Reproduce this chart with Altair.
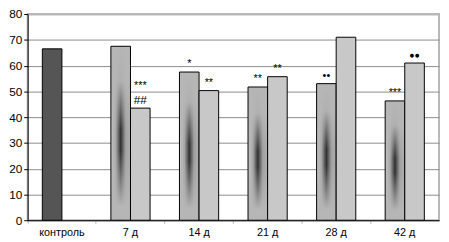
import altair as alt
import pandas as pd

categories = ["контроль", "7 д", "14 д", "21 д", "28 д", "42 д"]
series1 = [66.5, 67.5, 57.5, 51.7, 53.0, 46.3]
series2 = [None, 43.5, 50.3, 55.7, 71.0, 61.0]
labels1 = ["", "", "*", "**", "••", "***"]
labels2 = ["", "##", "**", "**", "", "●●"]
labels2_top = ["", "***", "", "", "", ""]

df = pd.DataFrame({
    "cat": categories * 2,
    "s": ["a"] * 6 + ["b"] * 6,
    "v": series1 + series2,
    "lab": labels1 + labels2,
    "lab2": [""] * 6 + labels2_top,
})

FONT = "Liberation Sans"

x_enc = alt.X("cat:N", sort=categories, title=None,
              scale=alt.Scale(paddingInner=0, paddingOuter=0),
              axis=alt.Axis(labelAngle=0, labelFontSize=11, labelColor="black",
                            labelFont=FONT, domainColor="black", tickColor="#b0b0b0",
                            tickSize=3, labelPadding=4, bandPosition=0, grid=False))
xo_enc = alt.XOffset("s:N", scale=alt.Scale(domain=["a", "b"], paddingInner=0, paddingOuter=0.75))
y_enc = alt.Y("v:Q", title=None,
              scale=alt.Scale(domain=[0, 80], nice=False),
              axis=alt.Axis(values=list(range(0, 81, 10)), labelFontSize=12, labelFont=FONT,
                            labelColor="black", domainColor="black", tickColor="black",
                            tickSize=4, labelPadding=2, grid=True,
                            gridColor={"condition": {"test": "datum.value === 80", "value": "#b8b8b8"}, "value": "#8c8c8c"},
                            gridWidth={"condition": {"test": "datum.value === 80", "value": 2}, "value": 1}))

base = alt.Chart(df).encode(x=x_enc, xOffset=xo_enc, y=y_enc)

control = base.transform_filter("datum.cat === 'контроль' && datum.s === 'a'").mark_bar(
    fill="#555555", stroke="black", strokeWidth=1)

hgrad = {"gradient": "linear", "x1": 0, "y1": 0, "x2": 1, "y2": 0,
         "stops": [{"offset": 0, "color": "#c4c4c4"}, {"offset": 0.25, "color": "#a8a8a8"},
                   {"offset": 0.5, "color": "#303030"}, {"offset": 0.75, "color": "#a0a0a0"},
                   {"offset": 1, "color": "#b0b0b0"}]}
vgrad = {"gradient": "linear", "x1": 0, "y1": 0, "x2": 0, "y2": 1,
         "stops": [{"offset": 0, "color": "rgba(182,182,182,1)"},
                   {"offset": 0.2, "color": "rgba(182,182,182,0.95)"},
                   {"offset": 0.48, "color": "rgba(182,182,182,0)"},
                   {"offset": 0.6, "color": "rgba(182,182,182,0)"},
                   {"offset": 0.92, "color": "rgba(182,182,182,1)"},
                   {"offset": 1, "color": "rgba(182,182,182,1)"}]}
s1_data = base.transform_filter("datum.cat !== 'контроль' && datum.s === 'a'")
s1 = s1_data.mark_bar(fill=hgrad, strokeWidth=0)
s1_over = s1_data.mark_bar(fill=vgrad, stroke="black", strokeWidth=1)

s2 = base.transform_filter("datum.s === 'b' && isValid(datum.v)").mark_bar(
    fill="#c8c8c8", stroke="black", strokeWidth=1)

txt1 = base.transform_filter("datum.lab !== ''").mark_text(
    baseline="alphabetic", align="center", dy=-5, font=FONT, color="black").encode(
    text="lab:N",
    size=alt.condition("datum.lab === '●●'", alt.value(9),
                       alt.value(11)))

txt_hash = base.transform_filter("datum.lab === '##'").mark_text(
    baseline="alphabetic", align="center", dy=-4, font=FONT, fontSize=12, color="black").encode(
    text="lab:N")

txt2 = base.transform_filter("datum.lab2 !== ''").mark_text(
    baseline="alphabetic", align="center", dy=-19, font=FONT, fontSize=11, color="black").encode(
    text="lab2:N")

txt1 = txt1.transform_filter("datum.lab !== '##'")

chart = alt.layer(control, s1, s1_over, s2, txt1, txt_hash, txt2).properties(
    width=419, height=210,
    autosize=alt.AutoSizeParams(type="none"),
    padding={"left": 20, "top": 4, "right": 2, "bottom": 20},
).configure_view(stroke="#b8b8b8", strokeWidth=2)

chart.save("out.html", embed_options={"renderer": "svg", "actions": False})
